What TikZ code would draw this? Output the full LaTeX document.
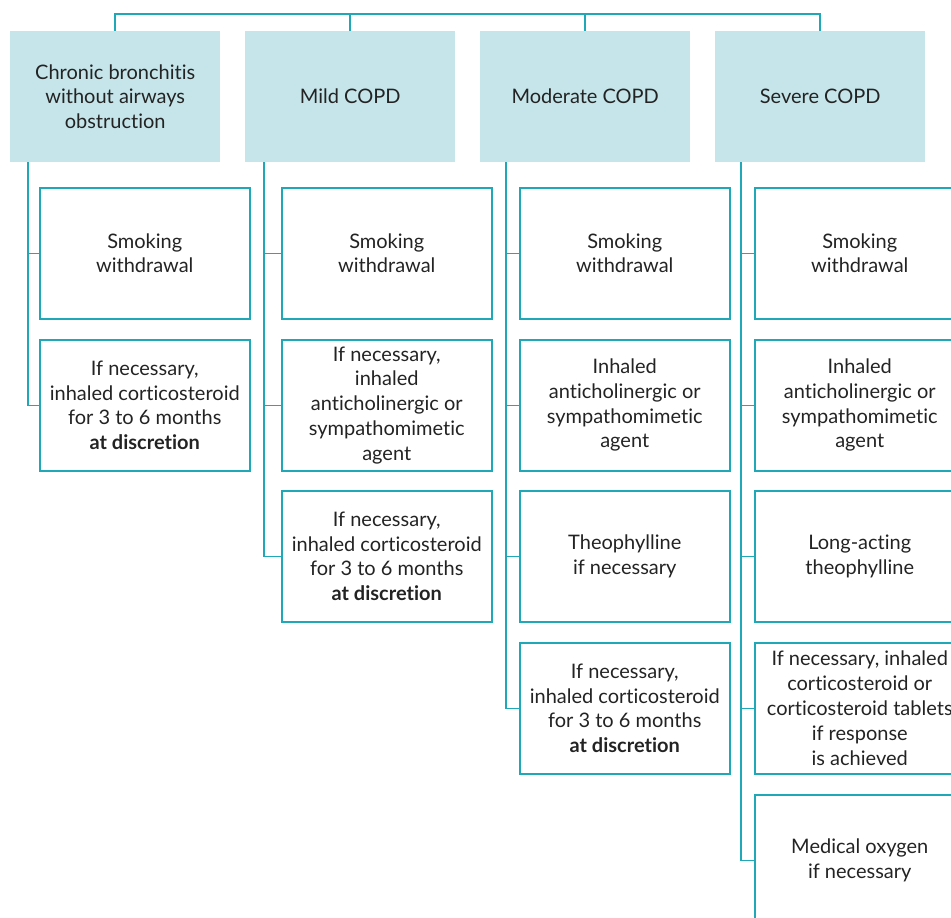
\documentclass[tikz,border=0pt]{standalone}
\usepackage{fontspec}
\setmainfont{Lato}[Ligatures={NoCommon,NoRare,TeX}]
\definecolor{teal}{HTML}{1FA9B8}
\definecolor{hdrfill}{HTML}{C6E5EA}
\definecolor{txt}{HTML}{232323}
\begin{document}
\begin{tikzpicture}[x=1pt,y=-1pt,
  hdr/.style={anchor=north west,fill=hdrfill,minimum width=210pt,minimum height=131pt,inner sep=0pt,align=center,text=txt,font=\fontsize{20}{24.8}\selectfont},
  item/.style={anchor=north west,draw=teal,line width=1.5pt,minimum width=210pt,minimum height=131pt,inner sep=0pt,align=center,text=txt,font=\fontsize{20}{24.8}\selectfont},
  wire/.style={draw=teal,line width=1.5pt}]
\useasboundingbox (0,0) rectangle (951,918);
\clip (0,0) rectangle (951,918);
% headers
\node[hdr] (h1) at (10,31) {Chronic bronchitis\\without airways\\obstruction};
\node[hdr] (h2) at (245,31) {Mild COPD};
\node[hdr] (h3) at (480,31) {Moderate COPD};
\node[hdr] (h4) at (715,31) {Severe COPD};
% top connector
\coordinate (top) at (0,14);
\draw[wire] (h1.north) |- (top -| h4.north) -- (h4.north);
\draw[wire] (h2.north) -- (h2.north |- top);
\draw[wire] (h3.north) -- (h3.north |- top);
% column 1
\node[item] (a1) at (39,187) {Smoking\\withdrawal};
\node[item] (a2) at (39,339) {If necessary,\\inhaled corticosteroid\\for 3 to 6 months\\\textbf{at discretion}};
% column 2
\node[item] (b1) at (281,187) {Smoking\\withdrawal};
\node[item] (b2) at (281,339) {If necessary,\\inhaled\\anticholinergic or\\sympathomimetic\\agent};
\node[item] (b3) at (281,490) {If necessary,\\inhaled corticosteroid\\for 3 to 6 months\\\textbf{at discretion}};
% column 3
\node[item] (c1) at (519,187) {Smoking\\withdrawal};
\node[item] (c2) at (519,339) {Inhaled\\anticholinergic or\\sympathomimetic\\agent};
\node[item] (c3) at (519,490) {Theophylline\\if necessary};
\node[item] (c4) at (519,642) {If necessary,\\inhaled corticosteroid\\for 3 to 6 months\\\textbf{at discretion}};
% column 4
\node[item] (d1) at (754,187) {Smoking\\withdrawal};
\node[item] (d2) at (754,339) {Inhaled\\anticholinergic or\\sympathomimetic\\agent};
\node[item] (d3) at (754,490) {Long-acting\\theophylline};
\node[item] (d4) at (754,642) {If necessary, inhaled\\corticosteroid or\\corticosteroid tablets\\if response\\is achieved};
\node[item] (d5) at (754,794) {Medical oxygen\\if necessary};
% spines
\coordinate (s1) at (28,162);
\coordinate (s2) at (264,162);
\coordinate (s3) at (506,162);
\coordinate (s4) at (741,162);
\draw[wire] (s1) |- (a2.west);
\draw[wire] (s1 |- a1.west) -- (a1.west);
\draw[wire] (s2) |- (b3.west);
\draw[wire] (s2 |- b1.west) -- (b1.west);
\draw[wire] (s2 |- b2.west) -- (b2.west);
\draw[wire] (s3) |- (c4.west);
\draw[wire] (s3 |- c1.west) -- (c1.west);
\draw[wire] (s3 |- c2.west) -- (c2.west);
\draw[wire] (s3 |- c3.west) -- (c3.west);
\draw[wire] (s4) |- (d5.west);
\draw[wire] (s4 |- d1.west) -- (d1.west);
\draw[wire] (s4 |- d2.west) -- (d2.west);
\draw[wire] (s4 |- d3.west) -- (d3.west);
\draw[wire] (s4 |- d4.west) -- (d4.west);
\end{tikzpicture}
\end{document}
